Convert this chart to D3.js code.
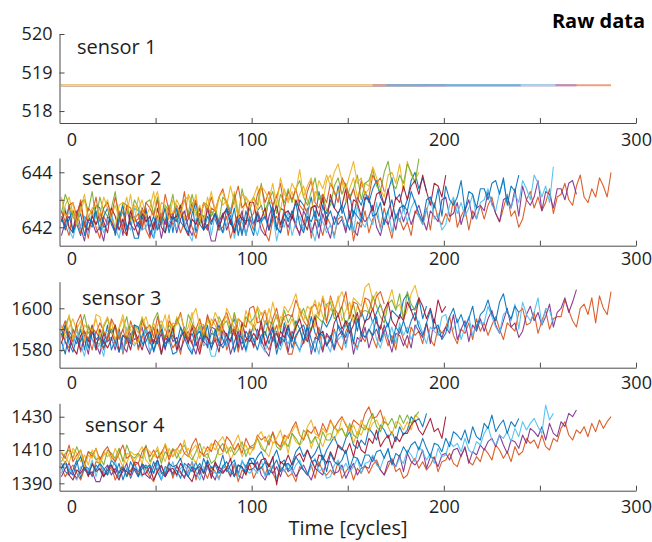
<!DOCTYPE html>
<html>
<head>
<meta charset="utf-8">
<script src="https://cdn.jsdelivr.net/npm/d3@7"></script>
<style>
  body { margin: 0; background: #fff; }
  svg { display: block; }
  text { font-family: "Open Sans", "Noto Sans", sans-serif; }
</style>
</head>
<body>
<svg id="chart" width="652" height="542"></svg>
<script>
// Run-to-failure sensor histories for ten engines, sampled every 2 cycles.
const engines = ["unit 1", "unit 2", "unit 3", "unit 4", "unit 5", "unit 6", "unit 7", "unit 8", "unit 9", "unit 10"];
const engineLengths = [192, 287, 188, 269, 188, 258, 201, 240, 170, 163];
const cycleStep = 2;

const sensorNames = ["sensor 1", "sensor 2", "sensor 3", "sensor 4"];

// sensor 1 stays constant over the whole life of every engine
const sensor1 = [518.67, 518.67, 518.67, 518.67, 518.67, 518.67, 518.67, 518.67, 518.67, 518.67];

const sensor2 = [
  [642.4,641.9,642.3,642.6,642.1,641.7,642.4,642.2,642.0,642.8, 642.7,642.0,642.1,642.5,641.7,642.2,642.6,641.9,642.3,642.4,
   642.0,642.7,642.3,641.9,641.6,642.4,642.5,642.1,642.8,641.8, 642.7,642.2,642.0,642.3,642.9,641.8,642.5,642.4,641.9,642.6,
   642.3,641.9,642.5,642.6,642.1,642.7,641.7,642.4,642.2,642.8, 642.1,642.6,642.8,642.3,643.0,642.4,641.9,642.7,642.6,642.2,
   642.6,642.1,643.0,642.8,642.5,643.1,642.3,643.3,642.7,642.5, 643.0,642.7,643.5,642.5,642.9,643.2,642.4,643.1,642.8,643.3,
   642.9,643.4,643.7,643.1,642.8,643.3,643.8,643.0,643.2,642.6, 643.0,643.7,644.0,643.4,643.8,643.3],
  [642.4,642.1,641.7,642.6,642.3,641.8,642.2,641.6,642.5,642.0, 641.6,642.4,642.1,642.3,641.8,642.6,641.9,641.7,642.4,642.2,
   642.3,642.7,641.9,641.6,642.2,642.0,642.4,641.8,642.6,642.1, 642.3,641.8,642.2,642.5,642.0,641.6,642.3,642.1,641.9,642.7,
   642.6,641.9,642.0,642.4,641.6,642.1,642.5,641.8,642.2,642.3, 641.9,642.6,642.2,641.8,641.5,642.3,642.4,642.0,642.7,641.7,
   642.5,642.0,641.8,642.1,642.7,641.6,642.3,642.2,641.7,642.4, 642.1,641.7,642.3,642.4,641.9,642.5,641.5,642.2,642.0,642.6,
   641.8,642.3,642.5,642.0,642.7,642.1,641.6,642.4,642.3,641.9, 642.2,641.7,642.6,642.4,642.1,642.7,641.9,642.9,642.3,642.1,
   642.5,642.2,643.0,642.0,642.4,642.7,641.9,642.6,642.3,642.8, 642.3,642.8,643.1,642.5,642.2,642.7,643.2,642.4,642.6,642.0,
   642.3,643.0,643.3,642.7,643.1,642.6,642.9,643.4,642.5,643.1, 643.2,643.6,643.0,642.8,643.5,643.9,643.1,642.9,643.4,643.1,
   643.8,643.5,643.1,644.0],
  [642.3,642.8,643.1,642.5,642.2,642.7,643.2,642.4,642.6,642.0, 642.0,642.7,643.0,642.4,642.8,642.3,642.6,643.1,642.2,642.8,
   642.6,643.0,642.4,642.2,642.9,643.3,642.5,642.3,642.8,642.5, 643.0,642.7,642.3,643.2,642.9,642.4,642.8,642.2,643.1,642.6,
   642.3,643.1,642.8,643.0,642.5,643.3,642.6,642.4,643.1,642.9, 643.1,643.5,642.7,642.4,643.0,642.8,643.2,642.6,643.4,642.9,
   643.3,642.8,643.2,643.5,643.0,642.6,643.3,643.1,642.9,643.7, 643.9,643.2,643.3,643.7,642.9,643.4,643.8,643.1,643.5,643.6,
   643.5,644.2,643.8,643.4,643.1,643.9,644.0,643.6,644.3,643.3, 644.4,643.9,643.7,644.0],
  [641.7,642.2,642.4,641.9,642.6,642.0,641.5,642.3,642.2,641.8, 642.0,641.5,642.4,642.2,641.9,642.5,641.7,642.7,642.1,641.9,
   642.2,641.9,642.7,641.7,642.1,642.4,641.6,642.3,642.0,642.5, 641.8,642.3,642.6,642.0,641.7,642.2,642.7,641.9,642.1,641.5,
   641.5,642.2,642.5,641.9,642.3,641.8,642.1,642.6,641.7,642.3, 642.1,642.5,641.9,641.7,642.4,642.8,642.0,641.8,642.3,642.0,
   642.4,642.1,641.7,642.6,642.3,641.8,642.2,641.6,642.5,642.0, 641.6,642.4,642.1,642.3,641.8,642.6,641.9,641.7,642.4,642.2,
   642.4,642.8,642.0,641.7,642.3,642.1,642.5,641.9,642.7,642.2, 642.6,642.1,642.5,642.8,642.3,641.9,642.6,642.4,642.2,643.0,
   643.1,642.4,642.5,642.9,642.1,642.6,643.0,642.3,642.7,642.8, 642.6,643.3,642.9,642.5,642.2,643.0,643.1,642.7,643.4,642.4,
   643.5,643.0,642.8,643.1,643.7,642.6,643.3,643.2,642.7,643.4, 643.4,643.0,643.6,643.7,643.2],
  [642.5,643.2,642.8,642.4,642.1,642.9,643.0,642.6,643.3,642.3, 643.1,642.6,642.4,642.7,643.3,642.2,642.9,642.8,642.3,643.0,
   642.7,642.3,642.9,643.0,642.5,643.1,642.1,642.8,642.6,643.2, 642.3,642.8,643.0,642.5,643.2,642.6,642.1,642.9,642.8,642.4,
   642.7,642.2,643.1,642.9,642.6,643.2,642.4,643.4,642.8,642.6, 643.1,642.8,643.6,642.6,643.0,643.3,642.5,643.2,642.9,643.4,
   642.9,643.4,643.7,643.1,642.8,643.3,643.8,643.0,643.2,642.6, 642.8,643.5,643.8,643.2,643.6,643.1,643.4,643.9,643.0,643.6,
   643.7,644.1,643.5,643.3,644.0,644.4,643.6,643.4,643.9,643.6, 644.3,644.0,643.6,644.5],
  [642.3,642.7,641.9,641.6,642.2,642.0,642.4,641.8,642.6,642.1, 642.3,641.8,642.2,642.5,642.0,641.6,642.3,642.1,641.9,642.7,
   642.6,641.9,642.0,642.4,641.6,642.1,642.5,641.8,642.2,642.3, 641.9,642.6,642.2,641.8,641.5,642.3,642.4,642.0,642.7,641.7,
   642.5,642.0,641.8,642.1,642.7,641.6,642.3,642.2,641.7,642.4, 642.1,641.7,642.3,642.4,641.9,642.5,641.5,642.2,642.0,642.6,
   641.7,642.2,642.4,641.9,642.6,642.0,641.5,642.3,642.2,641.8, 642.1,641.6,642.5,642.3,642.0,642.6,641.8,642.8,642.2,642.0,
   642.4,642.1,642.9,641.9,642.3,642.6,641.8,642.5,642.2,642.7, 642.2,642.7,643.0,642.4,642.1,642.6,643.1,642.3,642.5,641.9,
   642.1,642.8,643.1,642.5,642.9,642.4,642.7,643.2,642.3,642.9, 643.0,643.4,642.8,642.6,643.3,643.7,642.9,642.7,643.2,642.9,
   643.7,643.4,643.0,643.9,643.6,643.1,643.5,642.9,644.2],
  [642.2,642.6,642.0,641.8,642.5,642.9,642.1,641.9,642.4,642.1, 642.5,642.2,641.8,642.7,642.4,641.9,642.3,641.7,642.6,642.1,
   641.7,642.5,642.2,642.4,641.9,642.7,642.0,641.8,642.5,642.3, 642.4,642.8,642.0,641.7,642.3,642.1,642.5,641.9,642.7,642.2,
   642.5,642.0,642.4,642.7,642.2,641.8,642.5,642.3,642.1,642.9, 642.9,642.2,642.3,642.7,641.9,642.4,642.8,642.1,642.5,642.6,
   642.3,643.0,642.6,642.2,641.9,642.7,642.8,642.4,643.1,642.1, 643.2,642.7,642.5,642.8,643.4,642.3,643.0,642.9,642.4,643.1,
   643.0,642.6,643.2,643.3,642.8,643.4,642.4,643.1,642.9,643.5, 643.0,643.5,643.7,643.2,643.9,643.3,642.8,643.6,643.5,643.1,
   643.9],
  [642.3,642.0,642.8,641.8,642.2,642.5,641.7,642.4,642.1,642.6, 641.9,642.4,642.7,642.1,641.8,642.3,642.8,642.0,642.2,641.6,
   641.6,642.3,642.6,642.0,642.4,641.9,642.2,642.7,641.8,642.4, 642.2,642.6,642.0,641.8,642.5,642.9,642.1,641.9,642.4,642.1,
   642.5,642.2,641.8,642.7,642.4,641.9,642.3,641.7,642.6,642.1, 641.7,642.5,642.2,642.4,641.9,642.7,642.0,641.8,642.5,642.3,
   642.5,642.9,642.1,641.8,642.4,642.2,642.6,642.0,642.8,642.3, 642.6,642.1,642.5,642.8,642.3,641.9,642.6,642.4,642.2,643.0,
   643.1,642.4,642.5,642.9,642.1,642.6,643.0,642.3,642.7,642.8, 642.6,643.3,642.9,642.5,642.2,643.0,643.1,642.7,643.4,642.4,
   643.5,643.0,642.8,643.1,643.7,642.6,643.3,643.2,642.7,643.4, 643.4,643.0,643.6,643.7,643.2,643.8,642.8,643.5,643.3,643.9],
  [642.6,642.2,642.8,642.9,642.4,643.0,642.0,642.7,642.5,643.1, 642.2,642.7,642.9,642.4,643.1,642.5,642.0,642.8,642.7,642.3,
   642.5,642.0,642.9,642.7,642.4,643.0,642.2,643.2,642.6,642.4, 642.8,642.5,643.3,642.3,642.7,643.0,642.2,642.9,642.6,643.1,
   642.6,643.1,643.4,642.8,642.5,643.0,643.5,642.7,642.9,642.3, 642.5,643.2,643.5,642.9,643.3,642.8,643.1,643.6,642.7,643.3,
   643.0,643.4,642.8,642.6,643.3,643.7,642.9,642.7,643.2,642.9, 643.6,643.3,642.9,643.8,643.5,643.0,643.4,642.8,643.7,643.2,
   643.1,643.9,643.6,643.8,643.3],
  [643.1,642.4,642.5,642.9,642.1,642.6,643.0,642.3,642.7,642.8, 642.4,643.1,642.7,642.3,642.0,642.8,642.9,642.5,643.2,642.2,
   643.1,642.6,642.4,642.7,643.3,642.2,642.9,642.8,642.3,643.0, 642.8,642.4,643.0,643.1,642.6,643.2,642.2,642.9,642.7,643.3,
   642.6,643.1,643.3,642.8,643.5,642.9,642.4,643.2,643.1,642.7, 643.1,642.6,643.5,643.3,643.0,643.6,642.8,643.8,643.2,643.0,
   643.6,643.3,644.1,643.1,643.5,643.8,643.0,643.7,643.4,643.9, 643.5,644.0,644.3,643.7,643.4,643.9,644.4,643.6,643.8,643.2,
   643.4,644.1]
];

const sensor3 = [
  [1584,1578,1589,1586,1583,1590,1580,1592,1585,1583, 1586,1583,1592,1580,1585,1589,1579,1587,1584,1590,
   1581,1587,1591,1584,1580,1586,1592,1583,1585,1578, 1579,1587,1591,1584,1588,1582,1586,1592,1581,1588,
   1587,1592,1585,1582,1591,1595,1586,1583,1589,1586, 1592,1588,1583,1594,1590,1584,1589,1582,1593,1587,
   1584,1594,1590,1592,1586,1596,1588,1585,1594,1591, 1595,1600,1591,1587,1594,1592,1597,1589,1599,1593,
   1599,1593,1598,1602,1596,1591,1599,1597,1595,1604, 1607,1599,1600,1605,1595,1601],
  [1590,1584,1581,1585,1592,1579,1587,1586,1580,1589, 1585,1580,1587,1589,1583,1590,1578,1586,1584,1591,
   1580,1586,1589,1583,1591,1584,1578,1587,1586,1581, 1584,1578,1589,1586,1583,1590,1580,1592,1585,1583,
   1586,1583,1592,1580,1585,1589,1579,1587,1584,1590, 1581,1587,1591,1584,1580,1586,1592,1583,1585,1578,
   1578,1586,1590,1583,1587,1581,1585,1591,1580,1587, 1585,1590,1583,1580,1589,1593,1584,1581,1587,1584,
   1590,1586,1581,1592,1588,1582,1587,1580,1591,1585, 1581,1591,1587,1589,1583,1593,1585,1582,1591,1588,
   1591,1596,1587,1583,1590,1588,1593,1585,1595,1589, 1593,1587,1592,1596,1590,1585,1593,1591,1589,1598,
   1600,1592,1593,1598,1588,1594,1599,1590,1595,1596, 1596,1604,1599,1594,1591,1600,1602,1597,1605,1593,
   1606,1600,1597,1608],
  [1592,1586,1591,1595,1589,1584,1592,1590,1588,1597, 1596,1588,1589,1594,1584,1590,1595,1586,1591,1592,
   1588,1596,1591,1586,1583,1592,1594,1589,1597,1585, 1596,1590,1587,1591,1598,1585,1593,1592,1586,1595,
   1592,1587,1594,1596,1590,1597,1585,1593,1591,1598, 1589,1595,1598,1592,1600,1593,1587,1596,1595,1590,
   1595,1589,1600,1597,1594,1601,1591,1603,1596,1594, 1600,1597,1606,1594,1599,1603,1593,1601,1598,1604,
   1598,1604,1608,1601,1597,1603,1609,1600,1602,1595, 1599,1607,1611,1604],
  [1588,1584,1579,1590,1586,1580,1585,1578,1589,1583, 1578,1588,1584,1586,1580,1590,1582,1579,1588,1585,
   1586,1591,1582,1578,1585,1583,1588,1580,1590,1584, 1586,1580,1585,1589,1583,1578,1586,1584,1582,1591,
   1590,1582,1583,1588,1578,1584,1589,1580,1585,1586, 1582,1590,1585,1580,1577,1586,1588,1583,1591,1579,
   1589,1583,1580,1584,1591,1578,1586,1585,1579,1588, 1585,1580,1587,1589,1583,1590,1578,1586,1584,1591,
   1581,1587,1590,1584,1592,1585,1579,1588,1587,1582, 1587,1581,1592,1589,1586,1593,1583,1595,1588,1586,
   1591,1588,1597,1585,1590,1594,1584,1592,1589,1595, 1589,1595,1599,1592,1588,1594,1600,1591,1593,1586,
   1589,1597,1601,1594,1598,1592,1596,1602,1591,1598, 1600,1605,1598,1603,1609],
  [1586,1592,1596,1589,1585,1591,1597,1588,1590,1583, 1583,1591,1595,1588,1592,1586,1590,1596,1585,1592,
   1590,1595,1588,1585,1594,1598,1589,1586,1592,1589, 1595,1591,1586,1597,1593,1587,1592,1585,1596,1590,
   1586,1596,1592,1594,1588,1598,1590,1587,1596,1593, 1595,1600,1591,1587,1594,1592,1597,1589,1599,1593,
   1597,1591,1596,1600,1594,1589,1597,1595,1593,1602, 1603,1595,1596,1601,1591,1597,1602,1593,1598,1599,
   1598,1606,1601,1596,1593,1602,1604,1599,1607,1595, 1608,1602,1599,1603],
  [1579,1585,1588,1582,1590,1583,1577,1586,1585,1580, 1583,1577,1588,1585,1582,1589,1579,1591,1584,1582,
   1585,1582,1591,1579,1584,1588,1578,1586,1583,1589, 1580,1586,1590,1583,1579,1585,1591,1582,1584,1577,
   1577,1585,1589,1582,1586,1580,1584,1590,1579,1586, 1584,1589,1582,1579,1588,1592,1583,1580,1586,1583,
   1588,1584,1579,1590,1586,1580,1585,1578,1589,1583, 1579,1589,1585,1587,1581,1591,1583,1580,1589,1586,
   1589,1594,1585,1581,1588,1586,1591,1583,1593,1587, 1591,1585,1590,1594,1588,1583,1591,1589,1587,1596,
   1597,1589,1590,1595,1585,1591,1596,1587,1592,1593, 1593,1601,1596,1591,1588,1597,1599,1594,1602,1590,
   1603,1597,1594,1598,1605,1592,1600,1599,1593],
  [1583,1591,1586,1581,1578,1587,1589,1584,1592,1580, 1590,1584,1581,1585,1592,1579,1587,1586,1580,1589,
   1585,1580,1587,1589,1583,1590,1578,1586,1584,1591, 1580,1586,1589,1583,1591,1584,1578,1587,1586,1581,
   1585,1579,1590,1587,1584,1591,1581,1593,1586,1584, 1588,1585,1594,1582,1587,1591,1581,1589,1586,1592,
   1585,1591,1595,1588,1584,1590,1596,1587,1589,1582, 1585,1593,1597,1590,1594,1588,1592,1598,1587,1594,
   1595,1600,1593,1590,1599,1603,1594,1591,1597,1594, 1603,1599,1594,1605,1601,1595,1600,1593,1604,1598,
   1601],
  [1587,1592,1583,1579,1586,1584,1589,1581,1591,1585, 1587,1581,1586,1590,1584,1579,1587,1585,1583,1592,
   1591,1583,1584,1589,1579,1585,1590,1581,1586,1587, 1583,1591,1586,1581,1578,1587,1589,1584,1592,1580,
   1590,1584,1581,1585,1592,1579,1587,1586,1580,1589, 1585,1580,1587,1589,1583,1590,1578,1586,1584,1591,
   1581,1587,1590,1584,1592,1585,1579,1588,1587,1582, 1587,1581,1592,1589,1586,1593,1583,1595,1588,1586,
   1590,1587,1596,1584,1589,1593,1583,1591,1588,1594, 1588,1594,1598,1591,1587,1593,1599,1590,1592,1585,
   1588,1596,1600,1593,1597,1591,1595,1601,1590,1597, 1599,1604,1597,1594,1603,1607,1598,1595,1601,1598],
  [1589,1594,1587,1584,1593,1597,1588,1585,1591,1588, 1593,1589,1584,1595,1591,1585,1590,1583,1594,1588,
   1584,1594,1590,1592,1586,1596,1588,1585,1594,1591, 1593,1598,1589,1585,1592,1590,1595,1587,1597,1591,
   1595,1589,1594,1598,1592,1587,1595,1593,1591,1600, 1601,1593,1594,1599,1589,1595,1600,1591,1596,1597,
   1596,1604,1599,1594,1591,1600,1602,1597,1605,1593, 1606,1600,1597,1601,1608,1595,1603,1602,1596,1605,
   1604,1599,1606,1608,1602],
  [1591,1588,1597,1585,1590,1594,1584,1592,1589,1595, 1586,1592,1596,1589,1585,1591,1597,1588,1590,1583,
   1584,1592,1596,1589,1593,1587,1591,1597,1586,1593, 1592,1597,1590,1587,1596,1600,1591,1588,1594,1591,
   1598,1594,1589,1600,1596,1590,1595,1588,1599,1593, 1591,1601,1597,1599,1593,1603,1595,1592,1601,1598,
   1602,1607,1598,1594,1601,1599,1604,1596,1606,1600, 1605,1599,1604,1608,1602,1597,1605,1603,1601,1610,
   1612,1604]
];

const sensor4 = [
  [1402,1397,1395,1398,1404,1393,1400,1399,1394,1401, 1398,1394,1400,1401,1396,1402,1392,1399,1397,1403,
   1394,1399,1401,1396,1403,1397,1392,1400,1399,1395, 1398,1393,1402,1400,1397,1403,1395,1405,1399,1397,
   1402,1399,1407,1397,1401,1404,1396,1403,1400,1405, 1401,1406,1409,1403,1400,1405,1410,1402,1404,1398,
   1402,1409,1412,1406,1410,1405,1408,1413,1404,1410, 1414,1418,1412,1410,1417,1421,1413,1411,1416,1413,
   1423,1420,1416,1425,1422,1417,1421,1415,1424,1419, 1422,1430,1427,1429,1424,1432],
  [1399,1394,1398,1401,1396,1392,1399,1397,1395,1403, 1402,1395,1396,1400,1392,1397,1401,1394,1398,1399,
   1395,1402,1398,1394,1391,1399,1400,1396,1403,1393, 1401,1396,1394,1397,1403,1392,1399,1398,1393,1400,
   1397,1393,1399,1400,1395,1401,1391,1398,1396,1402, 1393,1398,1400,1395,1402,1396,1391,1399,1398,1394,
   1396,1391,1400,1398,1395,1401,1393,1403,1397,1395, 1398,1395,1403,1393,1397,1400,1392,1399,1396,1401,
   1396,1401,1404,1398,1395,1400,1405,1397,1399,1393, 1395,1402,1405,1399,1403,1398,1401,1406,1397,1403,
   1404,1408,1402,1400,1407,1411,1403,1401,1406,1403, 1411,1408,1404,1413,1410,1405,1409,1403,1412,1407,
   1409,1417,1414,1416,1411,1419,1412,1410,1417,1415, 1423,1427,1419,1416,1422,1420,1424,1418,1426,1421,
   1428,1423,1427,1430],
  [1409,1406,1402,1411,1408,1403,1407,1401,1410,1405, 1401,1409,1406,1408,1403,1411,1404,1402,1409,1407,
   1408,1412,1404,1401,1407,1405,1409,1403,1411,1406, 1409,1404,1408,1411,1406,1402,1409,1407,1405,1413,
   1414,1407,1408,1412,1404,1409,1413,1406,1410,1411, 1410,1417,1413,1409,1406,1414,1415,1411,1418,1408,
   1420,1415,1413,1416,1422,1411,1418,1417,1412,1419, 1420,1416,1422,1423,1418,1424,1414,1421,1419,1425,
   1421,1426,1428,1423,1430,1424,1419,1427,1426,1422, 1427,1422,1431,1429],
  [1394,1399,1402,1396,1393,1398,1403,1395,1397,1391, 1391,1398,1401,1395,1399,1394,1397,1402,1393,1399,
   1397,1401,1395,1393,1400,1404,1396,1394,1399,1396, 1400,1397,1393,1402,1399,1394,1398,1392,1401,1396,
   1392,1400,1397,1399,1394,1402,1395,1393,1400,1398, 1399,1403,1395,1392,1398,1396,1400,1394,1402,1397,
   1399,1394,1398,1401,1396,1392,1399,1397,1395,1403, 1403,1396,1397,1401,1393,1398,1402,1395,1399,1400,
   1399,1406,1402,1398,1395,1403,1404,1400,1407,1397, 1408,1403,1401,1404,1410,1399,1406,1405,1400,1407,
   1408,1404,1410,1411,1406,1412,1402,1409,1407,1413, 1410,1415,1417,1412,1419,1413,1408,1416,1415,1411,
   1419,1414,1423,1421,1418,1424,1416,1426,1420,1418, 1427,1424,1432,1430,1434],
  [1403,1408,1410,1405,1412,1406,1401,1409,1408,1404, 1406,1401,1410,1408,1405,1411,1403,1413,1407,1405,
   1408,1405,1413,1403,1407,1410,1402,1409,1406,1411, 1405,1410,1413,1407,1404,1409,1414,1406,1408,1402,
   1404,1411,1414,1408,1412,1407,1410,1415,1406,1412, 1413,1417,1411,1409,1416,1420,1412,1410,1415,1412,
   1420,1417,1413,1422,1419,1414,1418,1412,1421,1416, 1416,1424,1421,1423,1418,1426,1419,1417,1424,1422,
   1428,1432,1424,1421,1427,1425,1429,1423,1431,1426, 1431,1426,1430,1433],
  [1396,1403,1399,1395,1392,1400,1401,1397,1404,1394, 1402,1397,1395,1398,1404,1393,1400,1399,1394,1401,
   1398,1394,1400,1401,1396,1402,1392,1399,1397,1403, 1394,1399,1401,1396,1403,1397,1392,1400,1399,1395,
   1397,1392,1401,1399,1396,1402,1394,1404,1398,1396, 1399,1396,1404,1394,1398,1401,1393,1400,1397,1402,
   1396,1401,1404,1398,1395,1400,1405,1397,1399,1393, 1394,1401,1404,1398,1402,1397,1400,1405,1396,1402,
   1403,1407,1401,1399,1406,1410,1402,1400,1405,1402, 1410,1407,1403,1412,1409,1404,1408,1402,1411,1406,
   1407,1415,1412,1414,1409,1417,1410,1408,1415,1413, 1420,1424,1416,1413,1419,1417,1421,1415,1423,1418,
   1427,1422,1426,1429,1424,1420,1437,1428,1432],
  [1399,1403,1395,1392,1398,1396,1400,1394,1402,1397, 1399,1394,1398,1401,1396,1392,1399,1397,1395,1403,
   1402,1395,1396,1400,1392,1397,1401,1394,1398,1399, 1395,1402,1398,1394,1391,1399,1400,1396,1403,1393,
   1403,1398,1396,1399,1405,1394,1401,1400,1395,1402, 1402,1398,1404,1405,1400,1406,1389,1403,1401,1407,
   1401,1406,1408,1403,1410,1404,1399,1407,1406,1402, 1409,1404,1413,1411,1408,1414,1406,1416,1410,1408,
   1417,1414,1422,1412,1416,1419,1411,1418,1415,1420, 1420,1425,1428,1422,1419,1424,1429,1421,1423,1417,
   1430],
  [1399,1403,1397,1395,1402,1406,1398,1396,1401,1398, 1402,1399,1395,1404,1401,1396,1400,1394,1403,1398,
   1394,1402,1399,1401,1396,1404,1397,1395,1402,1400, 1401,1405,1397,1394,1400,1398,1402,1396,1404,1399,
   1401,1396,1400,1403,1398,1394,1401,1399,1397,1405, 1405,1398,1399,1403,1395,1400,1404,1397,1401,1402,
   1399,1406,1402,1398,1395,1403,1404,1400,1407,1397, 1408,1403,1401,1404,1410,1399,1406,1405,1400,1407,
   1407,1403,1409,1410,1405,1411,1401,1408,1406,1412, 1408,1413,1415,1410,1417,1411,1406,1414,1413,1409,
   1417,1412,1421,1419,1416,1422,1414,1424,1418,1416, 1426,1423,1431,1421,1425,1428,1420,1427,1424,1429],
  [1408,1405,1413,1403,1407,1410,1402,1409,1406,1411, 1404,1409,1412,1406,1403,1408,1413,1405,1407,1401,
   1402,1409,1412,1406,1410,1405,1408,1413,1404,1410, 1410,1414,1408,1406,1413,1417,1409,1407,1412,1409,
   1416,1413,1409,1418,1415,1410,1414,1408,1417,1412, 1411,1419,1416,1418,1413,1421,1414,1412,1419,1417,
   1423,1427,1419,1416,1422,1420,1424,1418,1426,1421, 1428,1423,1427,1430,1425,1421,1428,1426,1424,1432,
   1436,1429,1430,1434,1426],
  [1406,1402,1408,1409,1404,1410,1400,1407,1405,1411, 1402,1407,1409,1404,1411,1405,1400,1408,1407,1403,
   1407,1402,1411,1409,1406,1412,1404,1414,1408,1406, 1411,1408,1416,1406,1410,1413,1405,1412,1409,1414,
   1410,1415,1418,1412,1409,1414,1419,1411,1413,1407, 1411,1418,1421,1415,1419,1414,1417,1422,1413,1419,
   1421,1425,1419,1417,1424,1428,1420,1418,1423,1420, 1427,1424,1420,1429,1426,1421,1425,1419,1428,1423,
   1423,1431]
];

const xTicks = [0, 50, 100, 150, 200, 250, 300];
const xTickLabels = [0, 100, 200, 300];
const yTicks = [[518, 519, 520], [642, 643, 644], [1580, 1590, 1600], [1390, 1400, 1410, 1420, 1430]];
const yTickLabels = [[518, 519, 520], [642, 644], [1580, 1600], [1390, 1410, 1430]];

// MATLAB default line colour order
const palette = ["#0072BD", "#D95319", "#EDB120", "#7E2F8E", "#77AC30", "#4DBEEE", "#A2142F"];

// ---- layout ----
const svg = d3.select("#chart");
const x = d3.scaleLinear().domain([0, 300]).range([59.5, 636]);

const panels = [
  { top: 34,    bottom: 123,   domain: [517.69, 520],      labelX: 77, labelY: 54,  tickPad: 10 },
  { top: 158,   bottom: 245.7, domain: [641.33, 644.52],   labelX: 82, labelY: 185, tickPad: 7 },
  { top: 281.7, bottom: 367.7, domain: [1571.5, 1612.76],  labelX: 82, labelY: 305, tickPad: 8.5 },
  { top: 403.3, bottom: 490.7, domain: [1385.56, 1438.05], labelX: 85, labelY: 432, tickPad: 10 }
];

const toPoints = vals => vals.map((v, i) => [1 + i * cycleStep, v]);
const seriesBySensor = [
  sensor1.map((v, k) => [[1, v], [engineLengths[k], v]]),
  sensor2.map(toPoints),
  sensor3.map(toPoints),
  sensor4.map(toPoints)
];

const axisColor = "#4a4a4a";
const textColor = "#1e1e1e";

panels.forEach((p, pi) => {
  const y = d3.scaleLinear().domain(p.domain).range([p.bottom, p.top]);
  const g = svg.append("g");

  const clipId = "clip" + pi;
  g.append("clipPath").attr("id", clipId)
    .append("rect").attr("x", x(0)).attr("y", p.top)
    .attr("width", x(300) - x(0)).attr("height", p.bottom - p.top);

  const line = d3.line().x(d => x(d[0])).y(d => y(d[1]));
  const lines = g.append("g").attr("clip-path", `url(#${clipId})`);
  seriesBySensor[pi].forEach((pts, k) => {
    const base = palette[k % palette.length];
    lines.append("path")
      .datum(pts)
      .attr("d", line)
      .attr("fill", "none")
      .attr("stroke", pi === 0 ? d3.interpolateRgb(base, "#ffffff")(0.45) : base)
      .attr("stroke-width", pi === 0 ? 1.8 : 1.1)
      .attr("stroke-opacity", pi === 0 ? 1 : 0.92)
      .attr("stroke-linejoin", "round");
  });

  // y axis, ticks pointing inwards
  const yAxis = d3.axisLeft(y)
    .tickValues(yTicks[pi])
    .tickSizeInner(-5).tickSizeOuter(0).tickPadding(7)
    .tickFormat(v => yTickLabels[pi].includes(v) ? d3.format("d")(v) : "");
  const ya = g.append("g").attr("transform", `translate(${x(0)},0)`).call(yAxis);

  // x axis
  const xAxis = d3.axisBottom(x)
    .tickValues(xTicks)
    .tickSizeInner(-5).tickSizeOuter(0).tickPadding(p.tickPad)
    .tickFormat(v => xTickLabels.includes(v) ? d3.format("d")(v) : "");
  const xa = g.append("g").attr("transform", `translate(0,${p.bottom})`).call(xAxis);
  xa.selectAll(".tick").filter(d => d === 0).select("line").remove();
  xa.selectAll(".tick text").filter(d => d === 0).attr("x", 12);

  [ya, xa].forEach(a => {
    a.select(".domain").attr("stroke", axisColor).attr("stroke-width", 1);
    a.selectAll(".tick line").attr("stroke", axisColor);
    a.selectAll(".tick text")
      .attr("fill", textColor)
      .style("font-family", '"Open Sans", sans-serif')
      .style("font-size", "18px");
  });

  g.append("text")
    .attr("x", p.labelX).attr("y", p.labelY)
    .attr("fill", textColor)
    .style("font-size", "20px")
    .text(sensorNames[pi]);
});

svg.append("text")
  .attr("x", 645).attr("y", 28)
  .attr("text-anchor", "end")
  .attr("fill", "#000")
  .style("font-size", "20px").style("font-weight", "bold")
  .text("Raw data");

svg.append("text")
  .attr("x", 348).attr("y", 535)
  .attr("text-anchor", "middle")
  .attr("fill", textColor)
  .style("font-size", "20px")
  .text("Time [cycles]");
</script>
</body>
</html>
